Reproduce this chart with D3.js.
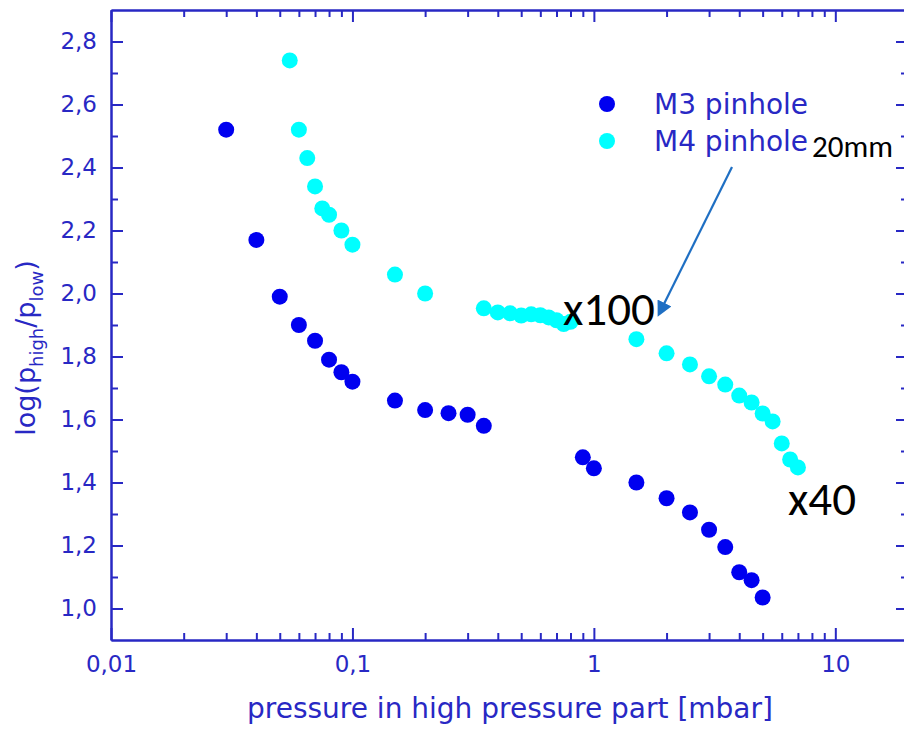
<!DOCTYPE html>
<html>
<head>
<meta charset="utf-8">
<script src="https://cdn.jsdelivr.net/npm/d3@7"></script>
<style>
  body { margin: 0; background: #fff; }
  svg { display: block; }
</style>
</head>
<body>
<div id="chart"></div>
<script>
// pressure [mbar] and log(p_high/p_low)
const m3Pressure = [0.03, 0.04, 0.05, 0.06, 0.07, 0.08, 0.09, 0.1, 0.15, 0.2, 0.25, 0.3, 0.35,
                    0.9, 1.0, 1.5, 2.0, 2.5, 3.0, 3.5, 4.0, 4.5, 5.0]
const m3Ratio    = [2.52, 2.17, 1.99, 1.90, 1.85, 1.79, 1.75, 1.72, 1.66, 1.63, 1.62, 1.615, 1.58,
                    1.48, 1.445, 1.40, 1.35, 1.305, 1.25, 1.195, 1.115, 1.09, 1.035]

const m4Pressure = [0.055, 0.06, 0.065, 0.07, 0.075, 0.08, 0.09, 0.1, 0.15, 0.2,
                    0.35, 0.4, 0.45, 0.5, 0.55, 0.6, 0.65, 0.7, 0.75, 0.8,
                    1.5, 2.0, 2.5, 3.0, 3.5, 4.0, 4.5, 5.0, 5.5, 6.0, 6.5, 7.0]
const m4Ratio    = [2.74, 2.52, 2.43, 2.34, 2.27, 2.25, 2.20, 2.155, 2.06, 2.00,
                    1.953, 1.94, 1.937, 1.93, 1.934, 1.931, 1.924, 1.915, 1.903, 1.91,
                    1.855, 1.81, 1.775, 1.737, 1.711, 1.676, 1.654, 1.619, 1.594, 1.524, 1.473, 1.448]

const xMajor = [0.01, 0.1, 1, 10]
const xMinor = [0.02, 0.03, 0.04, 0.05, 0.06, 0.07, 0.08, 0.09,
                0.2, 0.3, 0.4, 0.5, 0.6, 0.7, 0.8, 0.9,
                2, 3, 4, 5, 6, 7, 8, 9]
const yMajor = [1.0, 1.2, 1.4, 1.6, 1.8, 2.0, 2.2, 2.4, 2.6, 2.8]
const yMinor = [1.1, 1.3, 1.5, 1.7, 1.9, 2.1, 2.3, 2.5, 2.7]

const seriesNames = ['M3 pinhole', 'M4 pinhole']
const seriesColors = ['#0000f0', '#00ffff']

const width = 904
const height = 730
const MARGIN = { LEFT: 111, RIGHT: -4, TOP: 10, BOTTOM: 90 }
const axisColor = '#2828c4'

const svg = d3.select('#chart').append('svg')
    .attr('width', width)
    .attr('height', height)

const x = d3.scaleLog()
    .domain([0.01, 20])
    .range([MARGIN.LEFT, width - MARGIN.RIGHT])

const y = d3.scaleLinear()
    .domain([0.9, 2.9])
    .range([height - MARGIN.BOTTOM, MARGIN.TOP])

const commaFmt = f => (v => f(v).replace('.', ','))
const xLabel = v => v < 1 ? String(v).replace('.', ',') : String(v)

// axes, ticks all point inside the frame
function styleAxis(g) {
  g.select('.domain').attr('stroke', axisColor).attr('stroke-width', 2)
  g.selectAll('.tick line').attr('stroke', axisColor).attr('stroke-width', 2)
  g.selectAll('.tick text')
      .attr('fill', axisColor)
      .style('font-family', '"DejaVu Sans", Verdana, sans-serif')
      .style('font-size', '23px')
}

const plotBottom = y.range()[0]
const plotTop = y.range()[1]
const plotLeft = x.range()[0]
const plotRight = x.range()[1]

svg.append('g')
    .attr('transform', `translate(0, ${plotBottom})`)
    .call(d3.axisBottom(x).tickValues(xMinor).tickSize(-7).tickSizeOuter(0).tickFormat(''))
    .call(styleAxis)
svg.append('g')
    .attr('transform', `translate(0, ${plotBottom})`)
    .call(d3.axisBottom(x).tickValues(xMajor).tickSize(-12).tickSizeOuter(0).tickPadding(16).tickFormat(xLabel))
    .call(styleAxis)

svg.append('g')
    .attr('transform', `translate(0, ${plotTop})`)
    .call(d3.axisTop(x).tickValues(xMinor).tickSize(-7).tickSizeOuter(0).tickFormat(''))
    .call(styleAxis)
svg.append('g')
    .attr('transform', `translate(0, ${plotTop})`)
    .call(d3.axisTop(x).tickValues(xMajor).tickSize(-12).tickSizeOuter(0).tickFormat(''))
    .call(styleAxis)

svg.append('g')
    .attr('transform', `translate(${plotLeft}, 0)`)
    .call(d3.axisLeft(y).tickValues(yMinor).tickSize(-7).tickSizeOuter(0).tickFormat(''))
    .call(styleAxis)
svg.append('g')
    .attr('transform', `translate(${plotLeft}, 0)`)
    .call(d3.axisLeft(y).tickValues(yMajor).tickSize(-12).tickSizeOuter(0).tickPadding(14).tickFormat(commaFmt(d3.format('.1f'))))
    .call(styleAxis)

svg.append('g')
    .attr('transform', `translate(${plotRight}, 0)`)
    .call(d3.axisRight(y).tickValues(yMinor).tickSize(-7).tickSizeOuter(0).tickFormat(''))
    .call(styleAxis)
svg.append('g')
    .attr('transform', `translate(${plotRight}, 0)`)
    .call(d3.axisRight(y).tickValues(yMajor).tickSize(-12).tickSizeOuter(0).tickFormat(''))
    .call(styleAxis)

// axis titles
svg.append('text')
    .attr('x', 510)
    .attr('y', 718)
    .attr('text-anchor', 'middle')
    .attr('fill', axisColor)
    .style('font-family', '"DejaVu Sans", Verdana, sans-serif')
    .style('font-size', '28px')
    .text('pressure in high pressure part [mbar]')

const yTitle = svg.append('text')
    .attr('transform', 'translate(35, 348) rotate(-90)')
    .attr('text-anchor', 'middle')
    .attr('fill', axisColor)
    .style('font-family', '"DejaVu Sans", Verdana, sans-serif')
    .style('font-size', '27px')
yTitle.append('tspan').text('log(p')
yTitle.append('tspan').attr('dy', 8).style('font-size', '18px').text('high')
yTitle.append('tspan').attr('dy', -8).text('/p')
yTitle.append('tspan').attr('dy', 8).style('font-size', '18px').text('low')
yTitle.append('tspan').attr('dy', -8).text(')')

// data points
const m3 = m3Pressure.map((p, i) => ({ p: p, r: m3Ratio[i] }))
const m4 = m4Pressure.map((p, i) => ({ p: p, r: m4Ratio[i] }))

svg.append('g').selectAll('circle')
    .data(m3)
    .join('circle')
      .attr('cx', d => x(d.p))
      .attr('cy', d => y(d.r))
      .attr('r', 8)
      .attr('fill', seriesColors[0])

svg.append('g').selectAll('circle')
    .data(m4)
    .join('circle')
      .attr('cx', d => x(d.p))
      .attr('cy', d => y(d.r))
      .attr('r', 8)
      .attr('fill', seriesColors[1])

// legend
const legend = svg.append('g').selectAll('g')
    .data(seriesNames)
    .join('g')
      .attr('transform', (d, i) => `translate(607, ${104 + i * 37})`)
legend.append('circle')
    .attr('r', 8)
    .attr('fill', (d, i) => seriesColors[i])
legend.append('text')
    .attr('x', 47)
    .attr('y', 10)
    .attr('fill', axisColor)
    .style('font-family', '"DejaVu Sans", Verdana, sans-serif')
    .style('font-size', '28px')
    .text(d => d)

// annotations
const defs = svg.append('defs')
defs.append('marker')
    .attr('id', 'arrowhead')
    .attr('viewBox', '0 0 10 10')
    .attr('refX', 8)
    .attr('refY', 5)
    .attr('markerWidth', 7)
    .attr('markerHeight', 7)
    .attr('markerUnits', 'strokeWidth')
    .attr('orient', 'auto')
  .append('path')
    .attr('d', 'M0,0 L10,5 L0,10 z')
    .attr('fill', '#1f6fc3')

svg.append('line')
    .attr('x1', 732).attr('y1', 167)
    .attr('x2', 659).attr('y2', 314)
    .attr('stroke', '#1f6fc3')
    .attr('stroke-width', 2.2)
    .attr('marker-end', 'url(#arrowhead)')

const notes = [
  { t: 'x100', x: 563, y: 325, size: 47 },
  { t: 'x40', x: 788, y: 515, size: 47 },
  { t: '20mm', x: 812, y: 157, size: 31 }
]
svg.append('g').selectAll('text')
    .data(notes)
    .join('text')
      .attr('x', d => d.x)
      .attr('y', d => d.y)
      .attr('fill', '#000')
      .style('font-family', 'Carlito, "Liberation Sans", Arial, sans-serif')
      .style('font-size', d => d.size + 'px')
      .text(d => d.t)
</script>
</body>
</html>
